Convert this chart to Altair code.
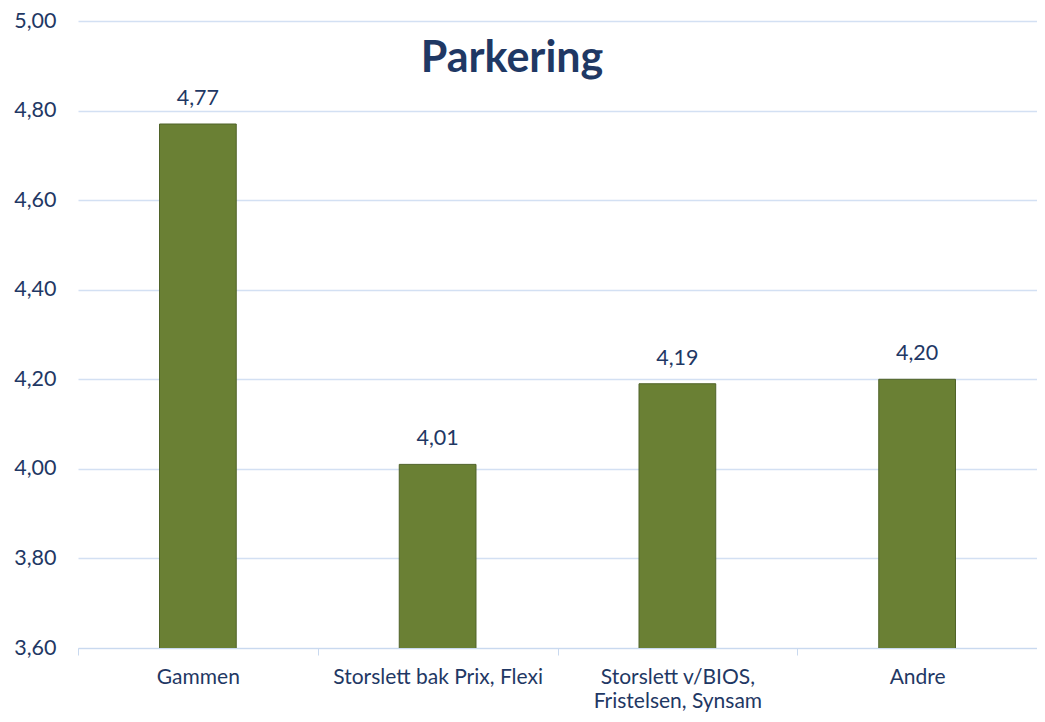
import altair as alt
import pandas as pd

categories = ["Gammen", "Storslett bak Prix, Flexi", "Storslett v/BIOS, Fristelsen, Synsam", "Andre"]
values = [4.77, 4.01, 4.19, 4.20]
y_ticks = [3.6, 3.8, 4.0, 4.2, 4.4, 4.6, 4.8, 5.0]
title_text = "Parkering"

df = pd.DataFrame({"cat": categories, "val": values})
df["label"] = df["val"].map(lambda v: f"{v:.2f}".replace(".", ","))

NAVY = "#1F3864"
FONT = "Lato"

x = alt.X("cat:N", sort=categories, title=None,
          scale=alt.Scale(paddingInner=0, paddingOuter=0),
          axis=alt.Axis(labelAngle=0, labelFontSize=21, labelColor=NAVY, labelFont=FONT,
                        labelPadding=11, labelLineHeight=24, tickBand="extent", labelLimit=0,
                        grid=False,
                        tickSize=7, tickColor="#C9D9EF", domainColor="#C9D9EF",
                        labelExpr="datum.label == 'Storslett v/BIOS, Fristelsen, Synsam' ? ['Storslett v/BIOS,', 'Fristelsen, Synsam'] : datum.label"))
y = alt.Y("val:Q", title=None,
          scale=alt.Scale(domain=[3.6, 5.0], nice=False, zero=False),
          axis=alt.Axis(values=y_ticks, labelFontSize=21.5, labelColor=NAVY, labelFont=FONT,
                        labelPadding=22, ticks=False, domain=False,
                        gridColor="#D3E0F3", gridWidth=1.5,
                        labelExpr="replace(format(datum.value, '.2f'), '.', ',')"))

base = alt.Chart(df)
bars = base.mark_bar(color="#6A8034", stroke="#4F6228", strokeWidth=1, clip=True,
                     width=alt.RelativeBandSize(0.32)).encode(x=x, y=y)
labels = base.mark_text(fontSize=21.5, color=NAVY, font=FONT, baseline="middle", dy=-25).encode(
    x=alt.X("cat:N", sort=categories), y="val:Q", text="label:N")
title = alt.Chart(pd.DataFrame({"t": [title_text]})).mark_text(
    fontSize=43, fontWeight="bold", color=NAVY, font=FONT, baseline="alphabetic", align="center"
).encode(x=alt.value(434), y=alt.value(51), text="t:N")

chart = alt.layer(bars, labels, title).properties(
    width=959, height=627,
    autosize=alt.AutoSizeParams(type="none"),
    padding={"left": 70, "top": 13, "right": 0, "bottom": 64},
).configure(background="white").configure_view(stroke=None)

chart.save("out.html", embed_options={"renderer": "svg", "actions": False})
